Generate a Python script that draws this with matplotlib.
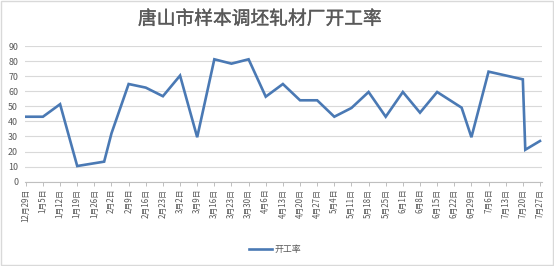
"""唐山市样本调坯轧材厂开工率 — weekly line chart on a date axis."""

import matplotlib

matplotlib.use("Agg")
import matplotlib.patheffects as pe
import matplotlib.pyplot as plt
import pandas as pd
from matplotlib.patches import Rectangle

plt.rcParams["font.family"] = ["Noto Sans CJK SC", "DejaVu Sans"]

TITLE = "唐山市样本调坯轧材厂开工率"
SERIES_NAME = "开工率"

point_dates = [
    "2018-12-29", "2019-01-05", "2019-01-12", "2019-01-19", "2019-01-30",
    "2019-02-02", "2019-02-09", "2019-02-16", "2019-02-23", "2019-03-02",
    "2019-03-09", "2019-03-16", "2019-03-23", "2019-03-30", "2019-04-06",
    "2019-04-13", "2019-04-20", "2019-04-27", "2019-05-04", "2019-05-11",
    "2019-05-18", "2019-05-25", "2019-06-01", "2019-06-08", "2019-06-15",
    "2019-06-25", "2019-06-29", "2019-07-06", "2019-07-20", "2019-07-21",
    "2019-07-27",
]
rate = [
    43.1, 43.1, 51.4, 10.4, 13.3,
    32.1, 64.8, 62.4, 56.7, 70.4,
    29.5, 81.2, 78.3, 81.2, 56.4,
    64.8, 54.0, 54.0, 43.1, 48.9,
    59.5, 43.1, 59.5, 45.8, 59.5,
    49.1, 29.5, 73.0, 67.9, 21.2,
    27.0,
]

tick_dates = pd.date_range("2018-12-29", "2019-07-27", freq="7D")
tick_labels = [
    "12月29日", "1月5日", "1月12日", "1月19日", "1月26日", "2月2日", "2月9日",
    "2月16日", "2月23日", "3月2日", "3月9日", "3月16日", "3月23日", "3月30日",
    "4月6日", "4月13日", "4月20日", "4月27日", "5月4日", "5月11日", "5月18日",
    "5月25日", "6月1日", "6月8日", "6月15日", "6月22日", "6月29日", "7月6日",
    "7月13日", "7月20日", "7月27日",
]
y_ticks = list(range(0, 91, 10))

TEXT = "#595959"
GRID = "#d9d9d9"
LINE = "#4a79b4"

fig = plt.figure(figsize=(5.54, 2.66), dpi=100)
ax = fig.add_axes([0.0451, 0.3169, 0.9327, 0.5101])

x = pd.to_datetime(point_dates)
ax.plot(x, rate, color=LINE, lw=1.9, solid_joinstyle="miter", label=SERIES_NAME)

ax.set_ylim(0, 90)
ax.set_yticks(y_ticks)
ax.set_xlim(tick_dates[0] - pd.Timedelta(hours=8), tick_dates[-1] + pd.Timedelta(hours=17))
ax.set_xticks(tick_dates)
ax.set_xticklabels(tick_labels, rotation=90)

ax.grid(axis="y", color=GRID, lw=0.8)
ax.set_axisbelow(True)
for side in ("top", "right", "left"):
    ax.spines[side].set_visible(False)
ax.spines["bottom"].set_color("#bfbfbf")
ax.spines["bottom"].set_linewidth(0.8)

ax.tick_params(axis="y", length=0, labelsize=6.4, labelcolor=TEXT, pad=5)
ax.tick_params(axis="x", length=3, width=0.7, color="#bfbfbf", labelsize=5.7,
               labelcolor=TEXT, pad=2)

# slightly heavier than regular: thin outline in the same colour
fig.text(0.469, 0.929, TITLE, ha="center", va="center", fontsize=13.5, color=TEXT,
         path_effects=[pe.withStroke(linewidth=0.25, foreground=TEXT)])

fig.legend(loc="center", bbox_to_anchor=(0.496, 0.062), frameon=False,
           fontsize=6.4, labelcolor=TEXT, handlelength=2.6, handletextpad=0.25)

# light chart-area border
fig.add_artist(Rectangle((0.001, 0.002), 0.997, 0.995, transform=fig.transFigure,
                         fill=False, edgecolor=GRID, lw=1))

fig.savefig("out.png", dpi=100)
